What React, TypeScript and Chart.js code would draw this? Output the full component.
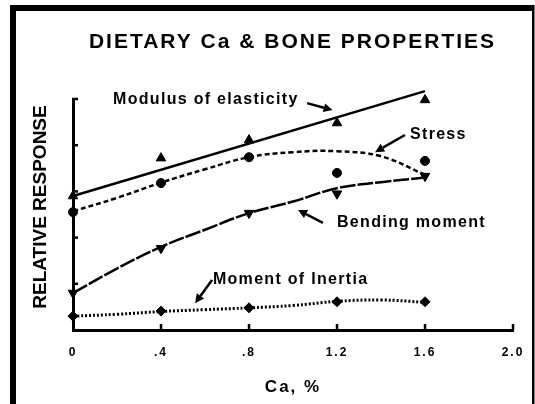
import React, { useEffect, useRef } from 'react';
import { Chart, registerables } from 'chart.js';

Chart.register(...registerables);

const FONT = '"Liberation Sans", Arial, Helvetica, sans-serif';

const TITLE = 'DIETARY Ca & BONE PROPERTIES';
const X_TITLE = 'Ca, %';
const Y_TITLE = 'RELATIVE RESPONSE';

const xTickValues = [0, 0.4, 0.8, 1.2, 1.6, 2.0];
const xTickLabels = ['0', '.4', '.8', '1.2', '1.6', '2.0'];
const yTickValues = [1, 2, 3, 4, 5];

// observed points
const caLevels = [0, 0.4, 0.8, 1.2, 1.6];
const modulusPoints = [2.9, 3.72, 4.11, 4.48, 4.98];
const stressPoints = [2.55, 3.18, 3.74, 3.4, 3.66];
const bendingPoints = [0.8, 1.77, 2.53, 2.95, 3.33];
const inertiaPoints = [0.3, 0.41, 0.48, 0.61, 0.61];

// fitted lines
const modulusFitLevels = [0, 1.6];
const modulusFit = [2.9, 5.17];
const fitLevels = [0, 0.2, 0.4, 0.6, 0.8, 1.0, 1.2, 1.4, 1.6];
const stressFit = [2.57, 2.86, 3.19, 3.48, 3.74, 3.85, 3.87, 3.76, 3.36];
const bendingFit = [0.8, 1.33, 1.8, 2.17, 2.53, 2.78, 3.07, 3.2, 3.3];
const inertiaFit = [0.3, 0.34, 0.4, 0.44, 0.48, 0.53, 0.62, 0.65, 0.6];

const labelTexts = ['Modulus of elasticity', 'Stress', 'Bending moment', 'Moment of Inertia'];

// annotation placement in data units: text start, arrow tail, arrow head
const annotations = [
  { text: labelTexts[0], x: 0.182, y: 4.89, from: [1.064, 4.91], to: [1.18, 4.76] },
  { text: labelTexts[1], x: 1.532, y: 4.13, from: [1.509, 4.22], to: [1.373, 3.85] },
  { text: labelTexts[2], x: 1.2, y: 2.23, from: [1.136, 2.32], to: [1.023, 2.6] },
  { text: labelTexts[3], x: 0.636, y: 1.0, from: [0.632, 1.08], to: [0.555, 0.58] },
];

const pts = (xs: number[], ys: number[]) => xs.map((x, i) => ({ x, y: ys[i] }));

const decorPlugin = {
  id: 'decor',
  beforeDraw(chart: any) {
    const { ctx, width, height } = chart;
    ctx.save();
    ctx.fillStyle = '#fff';
    ctx.fillRect(0, 0, width, height);
    ctx.fillStyle = '#000';
    ctx.fillRect(10, 5, 6, height);
    ctx.fillRect(10, 5, 524, 6);
    ctx.fillRect(532, 5, 2.5, height);
    ctx.font = `bold 21px ${FONT}`;
    (ctx as any).letterSpacing = '2px';
    ctx.textAlign = 'left';
    ctx.textBaseline = 'alphabetic';
    const w = ctx.measureText(TITLE).width - 2;
    ctx.fillText(TITLE, 291.5 - w / 2, 48);
    ctx.restore();
    (ctx as any).letterSpacing = '2px';
  },
  beforeDatasetsDraw(chart: any) {
    (chart.ctx as any).letterSpacing = '0px';
  },
  afterDraw(chart: any) {
    const { ctx, scales } = chart;
    const xs = scales.x;
    const ys = scales.y;
    const area = chart.chartArea;
    ctx.save();
    (ctx as any).letterSpacing = '0px';
    ctx.strokeStyle = '#000';
    ctx.lineWidth = 2.5;
    ctx.setLineDash([]);
    // inner tick marks
    xTickValues.slice(1).forEach((v) => {
      const px = xs.getPixelForValue(v);
      ctx.beginPath();
      ctx.moveTo(px, area.bottom);
      ctx.lineTo(px, area.bottom - 6);
      ctx.stroke();
    });
    yTickValues.forEach((v) => {
      const py = ys.getPixelForValue(v);
      ctx.beginPath();
      ctx.moveTo(area.left - 1, py);
      ctx.lineTo(area.left + 5, py);
      ctx.stroke();
    });
    // y axis title
    ctx.save();
    ctx.fillStyle = '#000';
    ctx.font = `bold 19px ${FONT}`;
    ctx.translate(41, 207);
    ctx.rotate(-Math.PI / 2);
    ctx.textAlign = 'center';
    ctx.textBaseline = 'middle';
    ctx.fillText(Y_TITLE, 0, 0);
    ctx.restore();
    // annotations
    ctx.fillStyle = '#000';
    ctx.font = `bold 16px ${FONT}`;
    (ctx as any).letterSpacing = '1.3px';
    ctx.textAlign = 'left';
    ctx.textBaseline = 'alphabetic';
    annotations.forEach((a) => {
      ctx.fillText(a.text, xs.getPixelForValue(a.x), ys.getPixelForValue(a.y));
      const x1 = xs.getPixelForValue(a.from[0]);
      const y1 = ys.getPixelForValue(a.from[1]);
      const x2 = xs.getPixelForValue(a.to[0]);
      const y2 = ys.getPixelForValue(a.to[1]);
      const ang = Math.atan2(y2 - y1, x2 - x1);
      const hl = 9;
      const hw = 4.5;
      const bx = x2 - hl * Math.cos(ang);
      const by = y2 - hl * Math.sin(ang);
      ctx.lineWidth = 2.5;
      ctx.beginPath();
      ctx.moveTo(x1, y1);
      ctx.lineTo(bx, by);
      ctx.stroke();
      ctx.beginPath();
      ctx.moveTo(x2, y2);
      ctx.lineTo(bx + hw * Math.sin(ang), by - hw * Math.cos(ang));
      ctx.lineTo(bx - hw * Math.sin(ang), by + hw * Math.cos(ang));
      ctx.closePath();
      ctx.fill();
    });
    ctx.restore();
  },
};

export default function App() {
  const ref = useRef<HTMLCanvasElement | null>(null);
  useEffect(() => {
    if (!ref.current) return;
    const lineBase = { pointRadius: 0, fill: false, clip: false as any, borderColor: '#000', tension: 0.4 };
    const markBase = {
      showLine: false,
      backgroundColor: '#000',
      borderColor: '#000',
      borderWidth: 1,
      clip: false as any,
    };
    const chart = new Chart(ref.current, {
      type: 'line',
      data: {
        datasets: [
          { ...markBase, label: 'Modulus of elasticity', data: pts(caLevels, modulusPoints), pointStyle: 'triangle', pointRadius: 5.5 },
          { ...markBase, label: 'Stress', data: pts(caLevels, stressPoints), pointStyle: 'circle', pointRadius: 4.5 },
          { ...markBase, label: 'Bending moment', data: pts(caLevels, bendingPoints), pointStyle: 'triangle', pointRotation: 180, pointRadius: 5.5 },
          { ...markBase, label: 'Moment of inertia', data: pts(caLevels, inertiaPoints), pointStyle: 'rectRot', pointRadius: 5 },
          { ...lineBase, label: 'Modulus fit', data: pts(modulusFitLevels, modulusFit), borderWidth: 2.5, tension: 0 },
          { ...lineBase, label: 'Stress fit', data: pts(fitLevels, stressFit), borderWidth: 2.5, borderDash: [5, 3] },
          { ...lineBase, label: 'Bending fit', data: pts(fitLevels, bendingFit), borderWidth: 2.5, borderDash: [16, 2] },
          { ...lineBase, label: 'Inertia fit', data: pts(fitLevels, inertiaFit), borderWidth: 3, borderDash: [2, 2] },
        ] as any,
      },
      options: {
        responsive: false,
        maintainAspectRatio: false,
        devicePixelRatio: 1,
        animation: false,
        layout: { padding: { top: 99, right: 22, left: 0, bottom: 0 } },
        plugins: { legend: { display: false }, tooltip: { enabled: false }, title: { display: false } },
        scales: {
          x: {
            type: 'linear',
            min: 0,
            max: 2,
            afterBuildTicks: (s: any) => {
              s.ticks = xTickValues.map((v) => ({ value: v }));
            },
            afterFit: (s: any) => {
              s.height = 74;
            },
            ticks: {
              color: '#000',
              font: { family: FONT, size: 12, weight: 'bold' },
              padding: 7,
              maxRotation: 0,
              autoSkip: false,
              callback: (_v: any, i: number) => xTickLabels[i],
            },
            grid: { display: false },
            border: { display: true, color: '#000', width: 3 },
            title: {
              display: true,
              text: X_TITLE,
              color: '#000',
              font: { family: FONT, size: 17, weight: 'bold' },
              padding: { top: 0, bottom: 6 },
            },
          },
          y: {
            type: 'linear',
            min: 0,
            max: 5,
            afterFit: (s: any) => {
              s.width = 73;
            },
            ticks: { display: false },
            grid: { display: false },
            border: { display: true, color: '#000', width: 3 },
            title: { display: false },
          },
        } as any,
      },
      plugins: [decorPlugin],
    });
    return () => chart.destroy();
  }, []);
  return (
    <div style={{ position: 'absolute', left: 0, top: 0, width: 535, height: 404 }}>
      <canvas ref={ref} width={535} height={404} style={{ display: 'block', width: 535, height: 404 }} />
    </div>
  );
}
